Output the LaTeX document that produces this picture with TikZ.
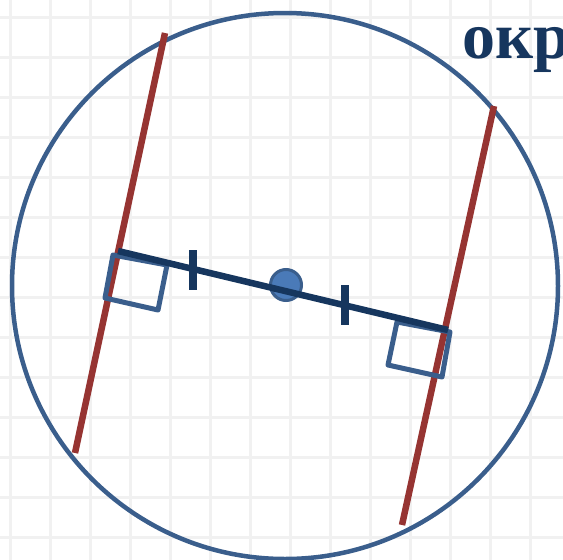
\documentclass[tikz,border=0pt]{standalone}
\usepackage{fontspec}
\newfontfamily\cyrserif{Liberation Serif}
\definecolor{circblue}{RGB}{58,94,140}
\definecolor{navy}{RGB}{22,54,94}
\definecolor{brick}{RGB}{150,52,50}
\definecolor{dotblue}{RGB}{74,122,184}
\definecolor{gridgray}{RGB}{241,241,241}
\begin{document}
\begin{tikzpicture}[x=1pt,y=-1pt,
  gridline/.style={draw=gridgray,line width=3},
  chord/.style={draw=brick,line width=6.5},
  diam/.style={draw=navy,line width=6.5},
  tickmark/.style={draw=navy,line width=7.5},
  rightangle/.style={draw=circblue,line width=5,line join=round},
  circ/.style={draw=circblue,line width=4.5}]
\useasboundingbox (0,0) rectangle (563,560);
\begin{scope}
\clip (0,0) rectangle (563,560);
\foreach \gx in {10,50,...,570} \draw[gridline] (\gx,0) -- (\gx,560);
\foreach \gy in {17,57,...,560} \draw[gridline] (0,\gy) -- (563,\gy);
\node[anchor=base west,text=navy,font=\cyrserif\bfseries\fontsize{66}{66}\selectfont,inner sep=0] (title) at (462,58) {окр};
\end{scope}
\coordinate (O) at (285,286);
\draw[circ] (O) circle [radius=273];
% chords
\coordinate (a1) at (165,33);
\coordinate (a2) at (75,453);
\coordinate (b1) at (494,106);
\coordinate (b2) at (402,525);
\draw[chord] (a1) -- (a2);
\draw[chord] (b1) -- (b2);
% right angle marks
\draw[rightangle] (113,255) -- (167,265) -- (158,310) -- (105,298) -- cycle;
\draw[rightangle] (397,322) -- (450,332) -- (442,377) -- (388,365) -- cycle;
% center dot
\node[circle,fill=dotblue,draw=circblue,line width=3,minimum size=31,inner sep=0] (center) at (286,285) {};
% diameter segment
\coordinate (p) at (118,251);
\coordinate (q) at (448,330);
\draw[diam] (p) -- (q);
\coordinate (t1a) at (193,250);
\coordinate (t1b) at (193,290);
\coordinate (t2a) at (345,285);
\coordinate (t2b) at (345,325);
\draw[tickmark] (t1a) -- (t1b);
\draw[tickmark] (t2a) -- (t2b);
\end{tikzpicture}
\end{document}
